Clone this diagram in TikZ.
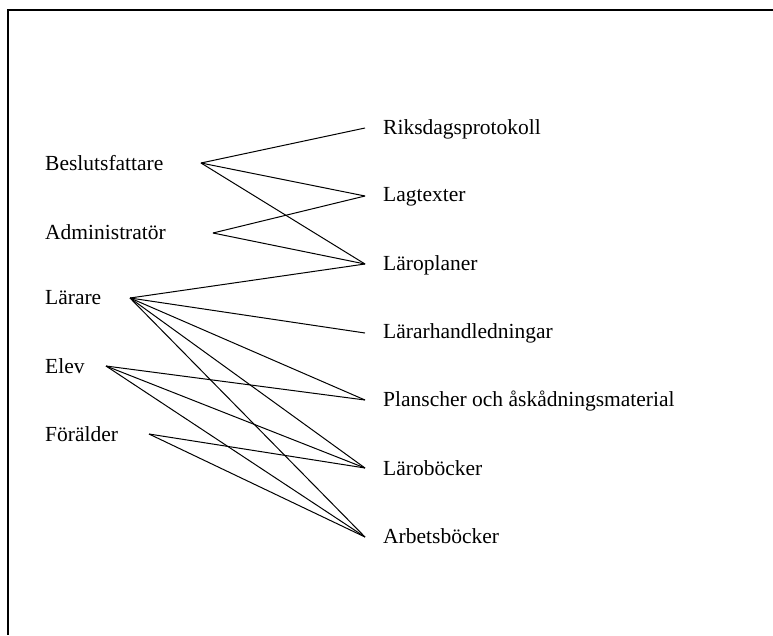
\documentclass[tikz,border=0pt]{standalone}
\usepackage{fontspec}
\setmainfont{Liberation Serif}
\begin{document}
\begin{tikzpicture}[x=1pt,y=-1pt,
  lbl/.style={anchor=west,inner sep=0pt,font=\fontsize{21.5}{23}\selectfont},
  conn/.style={line width=1pt,black},
  frame/.style={line width=1.6pt,black}]
\useasboundingbox (0,0) rectangle (773,635);
\coordinate (ftr) at (773,10);
\coordinate (ftl) at (8,10);
\coordinate (fbl) at (8,635);
\draw[frame] (ftr) -- (ftl) -- (fbl);
% left labels
\node[lbl] (tb) at (45,163) {Beslutsfattare};
\node[lbl] (ta) at (45,232) {Administratör};
\node[lbl] (tl) at (45,298) {Lärare};
\node[lbl] (te) at (45,366) {Elev};
\node[lbl] (tf) at (45,434) {Förälder};
% right labels
\node[lbl] (tr1) at (383,129) {Riksdagsprotokoll};
\node[lbl] (tr2) at (383,197) {Lagtexter};
\node[lbl] (tr3) at (383,265) {Läroplaner};
\node[lbl] (tr4) at (383,333) {Lärarhandledningar};
\node[lbl] (tr5) at (383,401) {Planscher och åskådningsmaterial};
\node[lbl] (tr6) at (383,468) {Läroböcker};
\node[lbl] (tr7) at (383,536) {Arbetsböcker};
% endpoints
\coordinate (b) at (201,163);
\coordinate (a) at (213,233);
\coordinate (l) at (130,298);
\coordinate (e) at (106,366);
\coordinate (f) at (149,434);
\coordinate (r1) at (365,128);
\coordinate (r2) at (365,196);
\coordinate (r3) at (365,264);
\coordinate (r4) at (365,333);
\coordinate (r5) at (365,400);
\coordinate (r6) at (365,468);
\coordinate (r7) at (365,537);
% connectors
\draw[conn] (b) -- (r1);
\draw[conn] (b) -- (r2);
\draw[conn] (b) -- (r3);
\draw[conn] (a) -- (r2);
\draw[conn] (a) -- (r3);
\draw[conn] (l) -- (r3);
\draw[conn] (l) -- (r4);
\draw[conn] (l) -- (r5);
\draw[conn] (l) -- (r6);
\draw[conn] (l) -- (r7);
\draw[conn] (e) -- (r5);
\draw[conn] (e) -- (r6);
\draw[conn] (e) -- (r7);
\draw[conn] (f) -- (r6);
\draw[conn] (f) -- (r7);
\end{tikzpicture}
\end{document}
